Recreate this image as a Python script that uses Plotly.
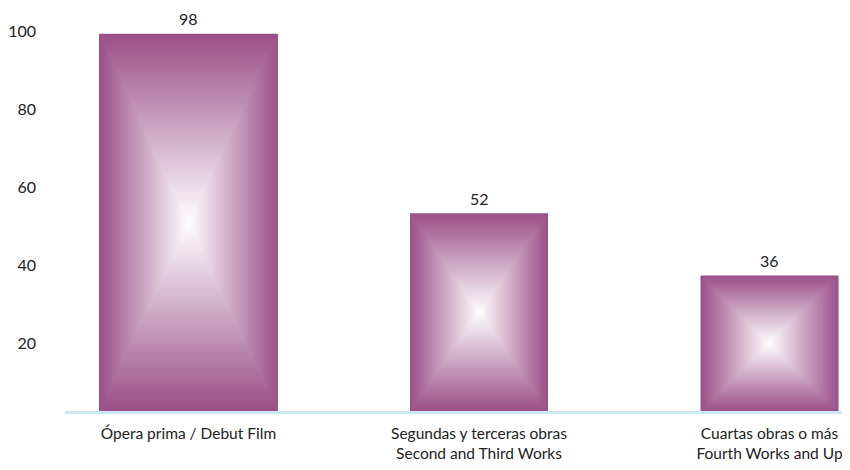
import plotly.graph_objects as go

# Data
categories = ["Ópera prima / Debut Film",
              "Segundas y terceras obras<br>Second and Third Works",
              "Cuartas obras o más<br>Fourth Works and Up"]
values = [98, 52, 36]
tick_vals = [20, 40, 60, 80, 100]

# Style
bar_widths = [0.616, 0.475, 0.475]
edge_rgb = (155, 80, 137)
y_min, y_max = 1.28, 101.54
n_layers = 48
FONT = "Lato"

fig = go.Figure()

xs = list(range(len(categories)))

# outer bar
fig.add_trace(go.Bar(
    x=xs, y=[v - y_min for v in values], base=[y_min] * len(values),
    width=bar_widths,
    marker=dict(color="rgb(%d,%d,%d)" % edge_rgb, line=dict(width=0)),
    hoverinfo="skip", showlegend=False))

# concentric layers to build the rectangular (pyramid) gradient
for i in range(1, n_layers):
    t = i / n_layers
    r = int(round(edge_rgb[0] + (255 - edge_rgb[0]) * t))
    g = int(round(edge_rgb[1] + (255 - edge_rgb[1]) * t))
    b = int(round(edge_rgb[2] + (255 - edge_rgb[2]) * t))
    heights = [(v - y_min) * (1 - t) for v in values]
    bases = [y_min + (v - y_min) / 2 - hh / 2 for v, hh in zip(values, heights)]
    widths = [w * (1 - t) for w in bar_widths]
    fig.add_trace(go.Bar(
        x=xs, y=heights, base=bases, width=widths,
        marker=dict(color="rgb(%d,%d,%d)" % (r, g, b), line=dict(width=0)),
        hoverinfo="skip", showlegend=False))

# value labels
for x, v in zip(xs, values):
    fig.add_annotation(x=x, y=v, text=str(v), showarrow=False,
                       yanchor="middle", yshift=15,
                       font=dict(size=16, color="#222222", family=FONT))

fig.update_layout(
    width=850, height=470,
    margin=dict(l=57, r=8, t=12, b=67),
    barmode="overlay",
    plot_bgcolor="white", paper_bgcolor="white",
    font=dict(family=FONT, size=16, color="#222222"),
    xaxis=dict(
        tickmode="array", tickvals=xs, ticktext=categories,
        range=[-0.425, 2.277], automargin=False,
        showline=True, linecolor="#cde9f6", linewidth=3,
        showgrid=False, zeroline=False, ticks="",
        ticklabelstandoff=6,
        tickfont=dict(size=15.5, color="#222222", family=FONT),
    ),
    yaxis=dict(
        range=[y_min, y_max], automargin=False,
        tickmode="array", tickvals=tick_vals,
        showgrid=False, zeroline=False, showline=False, ticks="",
        ticklabelstandoff=28, ticklabelshift=5,
        tickfont=dict(size=16, color="#222222", family=FONT),
    ),
)

fig.write_html("out.html", config={"displayModeBar": False})
